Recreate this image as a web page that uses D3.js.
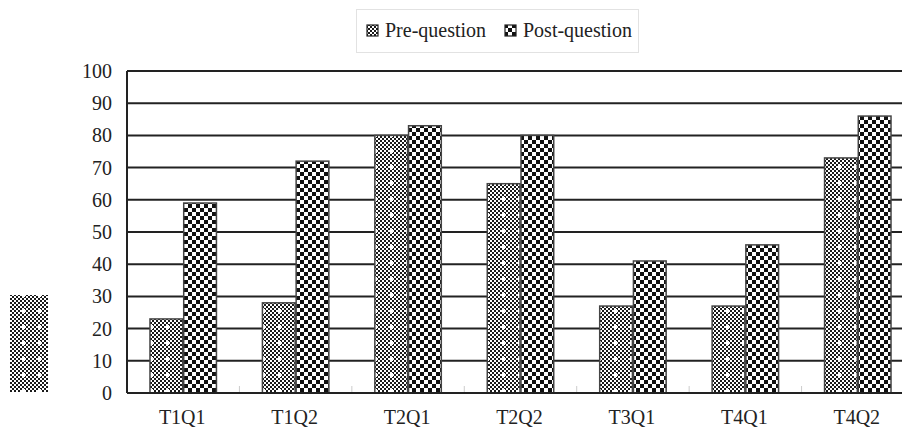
<!DOCTYPE html>
<html><head><meta charset="utf-8">
<script src="https://cdn.jsdelivr.net/npm/d3@7"></script>
<style>body{margin:0;background:#fff;overflow:hidden}svg{display:block}text{font-family:"Liberation Serif","Times New Roman",serif;fill:#222}</style>
</head><body>
<script>
const categories = ["T1Q1","T1Q2","T2Q1","T2Q2","T3Q1","T4Q1","T4Q2"];
const seriesNames = ["Pre-question","Post-question"];
const preValues = [23,28,80,65,27,27,73];
const postValues = [59,72,83,80,41,46,86];
const yTicks = [0,10,20,30,40,50,60,70,80,90,100];

const W=902,H=428;
const svg=d3.select("body").append("svg").attr("width",W).attr("height",H);
const defs=svg.append("defs");
// pre pattern: fine checker with white crosses
const pp=defs.append("pattern").attr("id","pre").attr("patternUnits","userSpaceOnUse").attr("width",16).attr("height",16);
pp.append("rect").attr("width",16).attr("height",16).attr("fill","#fff");
for(let i=0;i<8;i++)for(let j=0;j<8;j++){ if((i+j)%2===0) pp.append("rect").attr("x",i*2).attr("y",j*2).attr("width",2).attr("height",2).attr("fill","#1a1a1a");}
pp.append("rect").attr("x",7).attr("y",5).attr("width",2).attr("height",4).attr("fill","#fff");
pp.append("rect").attr("x",6).attr("y",6).attr("width",4).attr("height",2).attr("fill","#fff");
// post pattern: coarse checker
const po=defs.append("pattern").attr("id","post").attr("patternUnits","userSpaceOnUse").attr("width",8).attr("height",8);
po.append("rect").attr("width",8).attr("height",8).attr("fill","#fff");
po.append("rect").attr("x",0).attr("y",0).attr("width",4).attr("height",4).attr("fill","#111");
po.append("rect").attr("x",4).attr("y",4).attr("width",4).attr("height",4).attr("fill","#111");

const L=127,R=914,T=71,B=393;
const x0=d3.scaleBand().domain(categories).range([L,R]).paddingInner(0.4).paddingOuter(0.2);
const x1=d3.scaleBand().domain(seriesNames).range([0,x0.bandwidth()]);
const y=d3.scaleLinear().domain([0,100]).range([B,T]);

// gridlines
svg.append("g").selectAll("line").data(yTicks).join("line")
 .attr("x1",L).attr("x2",R).attr("y1",d=>y(d)).attr("y2",d=>y(d))
 .attr("stroke","#222").attr("stroke-width",2);
// category boundary ticks (light)
const step=x0.step();
svg.append("g").selectAll("line").data(categories.slice(1)).join("line")
 .attr("x1",d=>x0(d)-x0.paddingInner()*step/2).attr("x2",d=>x0(d)-x0.paddingInner()*step/2)
 .attr("y1",B-7).attr("y2",B).attr("stroke","#ccc").attr("stroke-width",1);

// bars
const g=svg.append("g");
categories.forEach((c,i)=>{
  const vals=[preValues[i],postValues[i]];
  seriesNames.forEach((s,k)=>{
    g.append("rect").attr("x",x0(c)+x1(s)+0.5).attr("y",y(vals[k]))
     .attr("width",x1.bandwidth()-1).attr("height",B-y(vals[k]))
     .attr("fill",k===0?"url(#pre)":"url(#post)")
     .attr("stroke","#444").attr("stroke-width",1.5);
  });
});
// axes lines
svg.append("line").attr("x1",L).attr("x2",L).attr("y1",T).attr("y2",B).attr("stroke","#222").attr("stroke-width",2);
svg.append("line").attr("x1",L).attr("x2",R).attr("y1",B).attr("y2",B).attr("stroke","#222").attr("stroke-width",2);

// y labels
svg.append("g").selectAll("text").data(yTicks).join("text")
 .attr("x",112).attr("y",d=>y(d)+7).attr("text-anchor","end").attr("font-size",20).text(d=>d);
// x labels
svg.append("g").selectAll("text").data(categories).join("text")
 .attr("x",d=>x0(d)+x0.bandwidth()/2-1).attr("y",424).attr("text-anchor","middle").attr("font-size",20).text(d=>d);

// legend
svg.append("rect").attr("x",356.5).attr("y",9.5).attr("width",282).attr("height",43).attr("fill","none").attr("stroke","#e2e2e2");
const legX=[367,505];
seriesNames.forEach((s,k)=>{
  svg.append("rect").attr("x",legX[k]).attr("y",25).attr("width",11).attr("height",11)
   .attr("fill",k===0?"url(#pre)":"url(#post)").attr("stroke","#222").attr("stroke-width",1.2);
  svg.append("text").attr("x",legX[k]+18).attr("y",37).attr("font-size",20).text(s);
});

// stray swatch at left
svg.append("rect").attr("x",10).attr("y",295).attr("width",38).attr("height",97).attr("fill","url(#pre)");
</script>
</body></html>
